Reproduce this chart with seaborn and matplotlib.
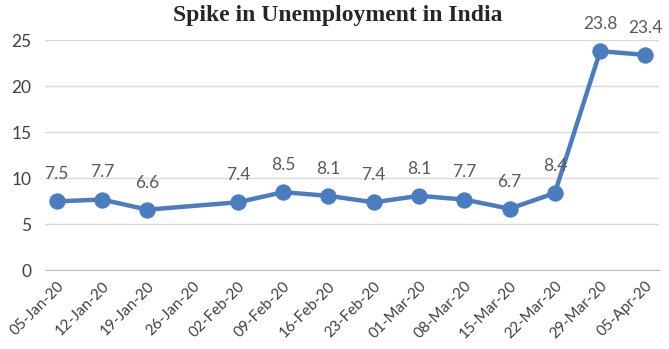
import numpy as np
import pandas as pd
import matplotlib
matplotlib.use("Agg")
import matplotlib.pyplot as plt
import seaborn as sns

# weekly dates and unemployment rate (%), 26-Jan-20 has no value
dates = ['05-Jan-20', '12-Jan-20', '19-Jan-20', '26-Jan-20', '02-Feb-20', '09-Feb-20',
         '16-Feb-20', '23-Feb-20', '01-Mar-20', '08-Mar-20', '15-Mar-20', '22-Mar-20',
         '29-Mar-20', '05-Apr-20']
rate = [7.5, 7.7, 6.6, np.nan, 7.4, 8.5, 8.1, 7.4, 8.1, 7.7, 6.7, 8.4, 23.8, 23.4]
labels = ['7.5', '7.7', '6.6', '', '7.4', '8.5', '8.1', '7.4', '8.1', '7.7', '6.7', '8.4', '23.8', '23.4']

df = pd.DataFrame({'pos': range(len(dates)), 'rate': rate})

sns.set_style("white")
plt.rcParams['font.family'] = ['Lato', 'DejaVu Sans']

fig = plt.figure(figsize=(6.69, 3.49), dpi=100)
ax = fig.add_axes([0.068, 0.225, 0.917, 0.66])

blue = '#4A7DBF'
sns.lineplot(data=df.dropna(), x='pos', y='rate', ax=ax, color=blue, linewidth=3.2,
             marker='o', markersize=11, markeredgecolor=blue, markerfacecolor=blue)

# data labels above points
for i, (v, t) in enumerate(zip(rate, labels)):
    if t:
        ax.annotate(t, (i, v), xytext=(0, 19.5), textcoords='offset points',
                    ha='center', va='center', fontsize=12.5, color='#595959')

ax.set_ylim(0, 25)
ax.set_yticks([0, 5, 10, 15, 20, 25])
ax.set_xlim(-0.25, 13.3)
ax.set_xticks(range(len(dates)))
ax.set_xticklabels(dates, rotation=45, ha='right', rotation_mode='anchor')
ax.tick_params(axis='x', length=4, color='#BFBFBF', labelsize=11, labelcolor='#404040', pad=2)
ax.tick_params(axis='y', length=0, labelsize=12.5, labelcolor='#404040', pad=10)
ax.yaxis.grid(True, color='#D9D9D9', linewidth=1)
ax.set_axisbelow(True)
for s in ['top', 'right', 'left']:
    ax.spines[s].set_visible(False)
ax.spines['bottom'].set_color('#BFBFBF')
ax.set_xlabel('')
ax.set_ylabel('')

fig.text(0.505, 0.955, 'Spike in Unemployment in India', ha='center', va='center',
         fontsize=17, fontweight='bold', family='Liberation Serif')

fig.savefig('out.png', dpi=100)
